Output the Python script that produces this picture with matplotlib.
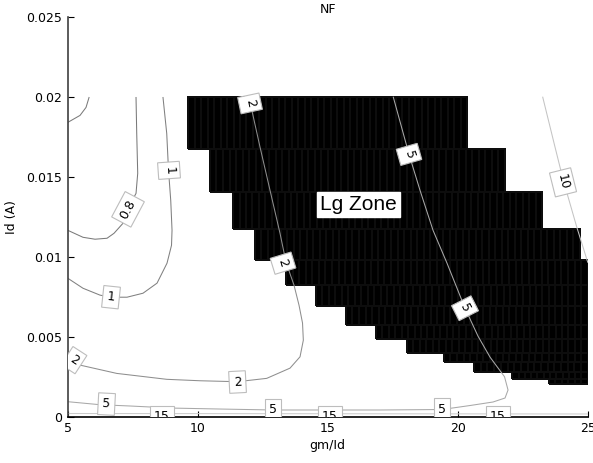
import numpy as np
import matplotlib
matplotlib.use("Agg")
import matplotlib.pyplot as plt

plt.rcParams['font.family'] = 'DejaVu Sans'
plt.rcParams['font.size'] = 9

# Lg zone mask, one row per Id band: top Id, bottom Id, gm/Id from, gm/Id to
zone_id_top = [0.0200, 0.01673, 0.01404, 0.01173, 0.00979, 0.00823, 0.00692,
               0.00573, 0.00486, 0.00398, 0.00342, 0.00279, 0.00236]
zone_id_bot = [0.01673, 0.01404, 0.01173, 0.00979, 0.00823, 0.00692, 0.00573,
               0.00486, 0.00398, 0.00342, 0.00279, 0.00236, 0.00204]
zone_gm_lo = [9.63, 10.47, 11.36, 12.20, 13.40, 14.55, 15.70, 16.86, 18.05,
              19.47, 20.63, 22.10, 23.50]
zone_gm_hi = [20.36, 21.82, 23.24, 24.70, 25.0, 25.0, 25.0, 25.0, 25.0,
              25.0, 25.0, 25.0, 25.0]

# NF contour lines (gm/Id, Id)
nf08_x = [7.627, 7.654, 7.692, 7.627, 7.319, 7.127, 6.78, 6.512, 6.05, 5.588, 5.0]
nf08_y = [0.01998, 0.01773, 0.01523, 0.01398, 0.01304, 0.01211, 0.01148,
          0.01117, 0.01111, 0.01123, 0.01167]
nf08b_x = [5.0, 5.473, 5.704, 5.819]
nf08b_y = [0.01842, 0.01886, 0.01936, 0.01998]
nf1_x = [8.665, 8.808, 8.877, 8.962, 9.012, 8.992, 8.819, 8.435, 7.896, 7.281,
         6.665, 6.242, 5.588, 5.0]
nf1_y = [0.01998, 0.01773, 0.01542, 0.01354, 0.01167, 0.01073, 0.00961,
         0.00836, 0.00773, 0.00748, 0.00748, 0.00761, 0.00804, 0.00867]
nf2_x = [11.973, 12.396, 12.781, 13.165, 13.396, 13.704, 13.896, 14.031,
         14.062, 13.935, 13.55, 12.654, 11.523, 10.088, 8.808, 6.885, 5.473, 5.0]
nf2_y = [0.01998, 0.01688, 0.01417, 0.01148, 0.00967, 0.00823, 0.00698,
         0.00586, 0.00479, 0.00375, 0.00304, 0.0024, 0.00219, 0.00225,
         0.00234, 0.00271, 0.00323, 0.00375]
nf5_x = [5.0, 6.242, 7.396, 9.012, 10.858, 12.896, 14.704, 17.012, 19.396,
         20.473, 21.358, 21.82, 21.935, 21.8, 21.242, 20.781, 20.281, 19.588,
         19.05, 18.55, 18.127, 17.523]
nf5_y = [0.00094, 0.00075, 0.00067, 0.00054, 0.00048, 0.00042, 0.00042,
         0.00042, 0.00045, 0.0007, 0.00092, 0.00117, 0.00167, 0.0025,
         0.00373, 0.00504, 0.00679, 0.00961, 0.01167, 0.01417, 0.01642, 0.0200]
nf10_x = [23.27, 23.742, 24.06, 24.577, 25.0]
nf10_y = [0.0200, 0.01688, 0.0148, 0.01188, 0.00967]
nf15_x = [5.0, 25.0]
nf15_y = [0.0002, 0.00017]

# contour labels: text, gm/Id, Id, angle
lab_text = ['0.8', '1', '1', '2', '2', '2', '2', '5', '5', '5', '5', '5',
            '10', '15', '15', '15']
lab_x = [7.319, 8.896, 6.665, 12.012, 13.281, 11.531, 5.242, 18.127, 20.281,
         6.492, 12.896, 19.396, 24.05, 8.627, 15.088, 21.55]
lab_y = [0.01298, 0.01542, 0.00748, 0.01961, 0.00961, 0.00217, 0.00354,
         0.01642, 0.00679, 0.00079, 0.00042, 0.00048, 0.01467, 0.00002,
         0.00002, 0.00002]
lab_rot = [62, -86, -6, -78, -73, 3, -33, -74, -63, -3, 0, 0, -76, 0, 0, 0]

fig = plt.figure(figsize=(5.93, 4.63), dpi=100)
ax = fig.add_axes([0.1142, 0.1, 0.8769, 0.8626])

# black Lg zone, drawn as cells
for top, bot, lo, hi in zip(zone_id_top, zone_id_bot, zone_gm_lo, zone_gm_hi):
    n = max(2, int(round((hi - lo) / 0.25)) + 1)
    xe = np.linspace(lo, hi, n)
    ye = np.array([bot, top])
    ax.pcolormesh(xe, ye, np.zeros((1, n - 1)), cmap='gray', vmin=0, vmax=1,
                  edgecolors='#0d0d0d', linewidth=0.3, zorder=1)

lines = [(nf08_x, nf08_y, '#7a7a7a'), (nf08b_x, nf08b_y, '#7a7a7a'),
         (nf1_x, nf1_y, '#808080'), (nf2_x, nf2_y, '#8e8e8e'),
         (nf5_x, nf5_y, '#a8a8a8'), (nf10_x, nf10_y, '#c4c4c4'),
         (nf15_x, nf15_y, '#cccccc')]
for xs, ys, c in lines:
    ax.plot(xs, ys, color=c, linewidth=0.75, zorder=2)

for t, x, y, r in zip(lab_text, lab_x, lab_y, lab_rot):
    ax.text(x, y, t, rotation=r, ha='center', va='center', fontsize=9,
            rotation_mode='anchor', zorder=4, clip_on=True,
            bbox=dict(boxstyle='square,pad=0.35', fc='white', ec='#bdbdbd', lw=0.8))

ax.text(16.165, 0.01329, 'Lg Zone', ha='center', va='center', fontsize=15,
        family='Liberation Sans', zorder=5,
        bbox=dict(boxstyle='square,pad=0.15', fc='white', ec='white'))

ax.set_xlim(5, 25)
ax.set_ylim(0, 0.025)
ax.set_xticks([5, 10, 15, 20, 25])
ax.set_yticks([0, 0.005, 0.01, 0.015, 0.02, 0.025])
ax.set_yticklabels(['0', '0.005', '0.01', '0.015', '0.02', '0.025'])
ax.tick_params(direction='in', length=4, width=0.8, pad=4, labelsize=9)
ax.spines['top'].set_visible(False)
ax.spines['right'].set_visible(False)
ax.spines['left'].set_color('#404040')
ax.spines['left'].set_linewidth(1.2)
ax.spines['bottom'].set_linewidth(1.2)
ax.set_xlabel('gm/Id', fontsize=9, labelpad=3)
ax.set_ylabel('Id (A)', fontsize=9, labelpad=6)
ax.set_title('NF', fontsize=9, pad=3)

fig.savefig('out.png', dpi=100)
